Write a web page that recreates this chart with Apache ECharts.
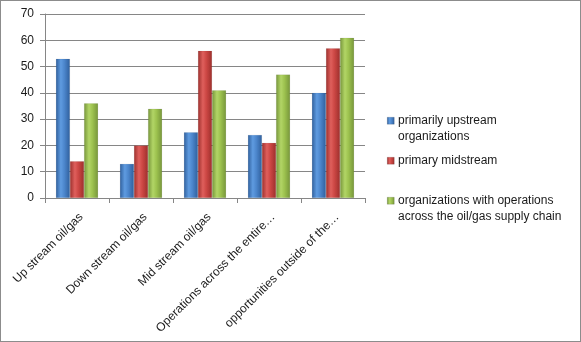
<!DOCTYPE html>
<html>
<head>
<meta charset="utf-8">
<script src="https://cdn.jsdelivr.net/npm/echarts@6/dist/echarts.min.js"></script>
<style>
  html, body { margin: 0; padding: 0; background: #fff; }
  #chart { width: 581px; height: 342px; box-sizing: border-box; border: 1px solid #8c8c8c; }
</style>
</head>
<body>
<div id="chart"></div>
<script>
// Survey categories and the share of each organization type
const categories = [
  'Up stream oil/gas',
  'Down stream oil/gas',
  'Mid stream oil/gas',
  'Operations across the entire…',
  'opportunities outside of the…'
];
const seriesNames = [
  'primarily upstream organizations',
  'primary midstream',
  'organizations with operations across the oil/gas supply chain'
];
const upstreamValues = [53, 13, 25, 24, 40];
const midstreamValues = [14, 20, 56, 21, 57];
const supplyChainValues = [36, 34, 41, 47, 61];
const yTicks = [0, 10, 20, 30, 40, 50, 60, 70];

// legend text, wrapped the way it is shown beside the plot
const legendLines = [
  ['primarily upstream', 'organizations'],
  ['primary midstream'],
  ['organizations with operations', 'across the oil/gas supply chain']
];

// glossy cylinder-like fill: darker edges, lighter middle
function gloss(edge, mid, light) {
  return new echarts.graphic.LinearGradient(0, 0, 1, 0, [
    { offset: 0, color: edge },
    { offset: 0.35, color: light },
    { offset: 0.6, color: mid },
    { offset: 1, color: edge }
  ]);
}
const palettes = [
  { base: '#4a7ebb', fill: gloss('#2f5f9c', '#4c86cc', '#5f9be0') },
  { base: '#be4b48', fill: gloss('#9c2f2c', '#cc4744', '#df5f5c') },
  { base: '#98b954', fill: gloss('#76953a', '#9dc24f', '#b2d566') }
];
const valueSets = [upstreamValues, midstreamValues, supplyChainValues];

const font = 'Liberation Sans, Arial, sans-serif';
const chart = echarts.init(document.getElementById('chart'));

// legend block: one swatch per series, first text line level with the swatch
const legendTops = [116, 156, 196];
const legendGraphics = [];
seriesNames.forEach((name, i) => {
  legendGraphics.push({
    type: 'rect',
    left: 386,
    top: legendTops[i],
    shape: { width: 7, height: 7 },
    style: { fill: palettes[i].fill, stroke: 'rgba(0,0,0,0.25)', lineWidth: 0.5 }
  });
  legendGraphics.push({
    type: 'text',
    left: 397,
    top: legendTops[i] - 4,
    style: {
      text: legendLines[i].join('\n'),
      font: '12px ' + font,
      fill: '#1a1a1a',
      lineHeight: 16
    }
  });
});

chart.setOption({
  animation: false,
  textStyle: { fontFamily: font },
  grid: { left: 44, right: 215, top: 13, bottom: 143, containLabel: false },
  graphic: legendGraphics,
  xAxis: {
    type: 'category',
    data: categories,
    axisLine: { lineStyle: { color: '#868686' } },
    axisTick: { show: true, length: 5, lineStyle: { color: '#868686' } },
    axisLabel: {
      rotate: 45, fontSize: 12, color: '#1a1a1a', margin: 13, fontFamily: font, interval: 0,
      align: 'right', verticalAlign: 'top'
    }
  },
  yAxis: {
    type: 'value',
    min: yTicks[0],
    max: yTicks[yTicks.length - 1],
    interval: 10,
    axisLine: { show: true, lineStyle: { color: '#868686' } },
    axisTick: { show: true, length: 5, lineStyle: { color: '#868686' } },
    axisLabel: { fontSize: 12, color: '#1a1a1a', margin: 11, fontFamily: font },
    splitLine: { lineStyle: { color: '#868686' } }
  },
  series: seriesNames.map((name, i) => ({
    name,
    type: 'bar',
    data: valueSets[i],
    barGap: '0%',
    barCategoryGap: '34%',
    itemStyle: { color: palettes[i].fill, borderColor: 'rgba(0,0,0,0.12)', borderWidth: 0.5 }
  }))
});
</script>
</body>
</html>
